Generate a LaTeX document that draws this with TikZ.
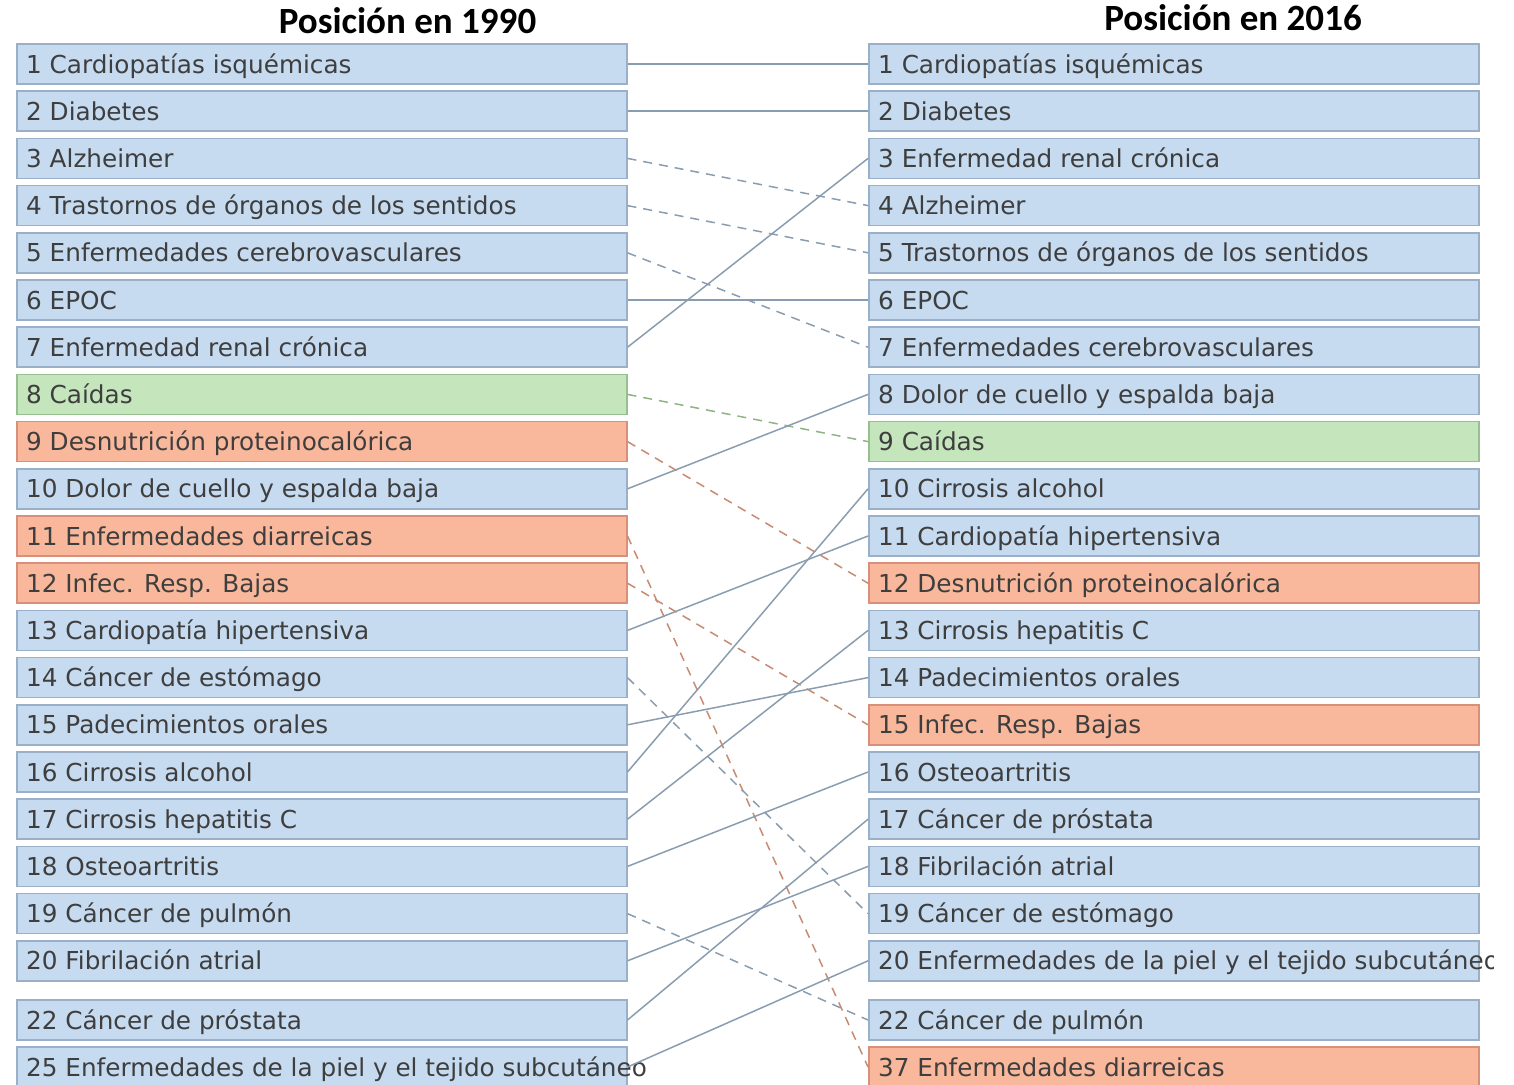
\documentclass[tikz,border=0pt]{standalone}
\usepackage{fontspec}
\setmainfont{DejaVu Sans}
\newfontfamily\titlefont{Carlito}
\definecolor{bfill}{HTML}{C6DAF0}
\definecolor{bdraw}{HTML}{9AB0C8}
\definecolor{gfill}{HTML}{C5E5BD}
\definecolor{gdraw}{HTML}{98BF8F}
\definecolor{ofill}{HTML}{F9B89B}
\definecolor{odraw}{HTML}{D9907A}
\definecolor{txt}{HTML}{3E3E3E}
\definecolor{lnb}{HTML}{8A9DB0}
\definecolor{lno}{HTML}{C98A72}
\definecolor{lng}{HTML}{8FB383}
\begin{document}
\begin{tikzpicture}[x=1pt,y=-1pt,
  rowbox/.style={rectangle, minimum width=610pt, minimum height=40pt, inner sep=0pt, line width=1.5pt, anchor=west},
  bbox/.style={rowbox, draw=bdraw, fill=bfill},
  gbox/.style={rowbox, draw=gdraw, fill=gfill},
  obox/.style={rowbox, draw=odraw, fill=ofill},
  lbl/.style={anchor=base west, inner sep=0pt, text=txt, font=\fontsize{24.7}{28}\selectfont},
  ttl/.style={anchor=base, inner sep=0pt, text=black, font=\titlefont\bfseries\fontsize{37}{42}\selectfont},
  sol/.style={draw=lnb, line width=1.5pt},
  dashb/.style={draw=lnb, line width=1.5pt, dash pattern=on 9pt off 7pt},
  dasho/.style={draw=lno, line width=1.5pt, dash pattern=on 9pt off 7pt},
  dashg/.style={draw=lng, line width=1.5pt, dash pattern=on 9pt off 7pt}]
\useasboundingbox (0,0) rectangle (1514,1084);
\node[ttl] (t1) at (407.5,33) {Posición en 1990};
\node[ttl] (t2) at (1233,30) {Posición en 2016};
% left column
\foreach \k/\yy/\st/\tx in {
 1/64/bbox/{1 Cardiopatías isquémicas},
 2/111.2/bbox/{2 Diabetes},
 3/158.4/bbox/{3 Alzheimer},
 4/205.6/bbox/{4 Trastornos de órganos de los sentidos},
 5/252.8/bbox/{5 Enfermedades cerebrovasculares},
 6/300/bbox/{6 EPOC},
 7/347.2/bbox/{7 Enfermedad renal crónica},
 8/394.4/gbox/{8 Caídas},
 9/441.6/obox/{9 Desnutrición proteinocalórica},
 10/488.8/bbox/{10 Dolor de cuello y espalda baja},
 11/536/obox/{11 Enfermedades diarreicas},
 12/583.2/obox/{12 Infec. Resp. Bajas},
 13/630.4/bbox/{13 Cardiopatía hipertensiva},
 14/677.6/bbox/{14 Cáncer de estómago},
 15/724.8/bbox/{15 Padecimientos orales},
 16/772/bbox/{16 Cirrosis alcohol},
 17/819.2/bbox/{17 Cirrosis hepatitis C},
 18/866.4/bbox/{18 Osteoartritis},
 19/913.6/bbox/{19 Cáncer de pulmón},
 20/960.8/bbox/{20 Fibrilación atrial},
 21/1020/bbox/{22 Cáncer de próstata},
 22/1067/bbox/{25 Enfermedades de la piel y el tejido subcutáneo}}
{
 \node[\st] (L\k) at (16,\yy) {};
 \node[lbl] (LT\k) at ([xshift=10pt,yshift=-9pt]L\k.west) {\tx};
}
% right column
\begin{scope}
\clip (0,0) rectangle (1493,1084);
\foreach \k/\yy/\st/\tx in {
 1/64/bbox/{1 Cardiopatías isquémicas},
 2/111.2/bbox/{2 Diabetes},
 3/158.4/bbox/{3 Enfermedad renal crónica},
 4/205.6/bbox/{4 Alzheimer},
 5/252.8/bbox/{5 Trastornos de órganos de los sentidos},
 6/300/bbox/{6 EPOC},
 7/347.2/bbox/{7 Enfermedades cerebrovasculares},
 8/394.4/bbox/{8 Dolor de cuello y espalda baja},
 9/441.6/gbox/{9 Caídas},
 10/488.8/bbox/{10 Cirrosis alcohol},
 11/536/bbox/{11 Cardiopatía hipertensiva},
 12/583.2/obox/{12 Desnutrición proteinocalórica},
 13/630.4/bbox/{13 Cirrosis hepatitis C},
 14/677.6/bbox/{14 Padecimientos orales},
 15/724.8/obox/{15 Infec. Resp. Bajas},
 16/772/bbox/{16 Osteoartritis},
 17/819.2/bbox/{17 Cáncer de próstata},
 18/866.4/bbox/{18 Fibrilación atrial},
 19/913.6/bbox/{19 Cáncer de estómago},
 20/960.8/bbox/{20 Enfermedades de la piel y el tejido subcutáneo},
 21/1020/bbox/{22 Cáncer de pulmón},
 22/1067/obox/{37 Enfermedades diarreicas}}
{
 \node[\st] (R\k) at (868,\yy) {};
 \node[lbl] (RT\k) at ([xshift=10pt,yshift=-9pt]R\k.west) {\tx};
}
\end{scope}
% connectors
\draw[sol] (L1.east) -- (R1.west);
\draw[sol] (L2.east) -- (R2.west);
\draw[dashb] (L3.east) -- (R4.west);
\draw[dashb] (L4.east) -- (R5.west);
\draw[dashb] (L5.east) -- (R7.west);
\draw[sol] (L6.east) -- (R6.west);
\draw[sol] (L7.east) -- (R3.west);
\draw[dashg] (L8.east) -- (R9.west);
\draw[dasho] (L9.east) -- (R12.west);
\draw[sol] (L10.east) -- (R8.west);
\draw[dasho] (L11.east) -- (R22.west);
\draw[dasho] (L12.east) -- (R15.west);
\draw[sol] (L13.east) -- (R11.west);
\draw[dashb] (L14.east) -- (R19.west);
\draw[sol] (L15.east) -- (R14.west);
\draw[sol] (L16.east) -- (R10.west);
\draw[sol] (L17.east) -- (R13.west);
\draw[sol] (L18.east) -- (R16.west);
\draw[dashb] (L19.east) -- (R21.west);
\draw[sol] (L20.east) -- (R18.west);
\draw[sol] (L21.east) -- (R17.west);
\draw[sol] (L22.east) -- (R20.west);
\end{tikzpicture}
\end{document}
